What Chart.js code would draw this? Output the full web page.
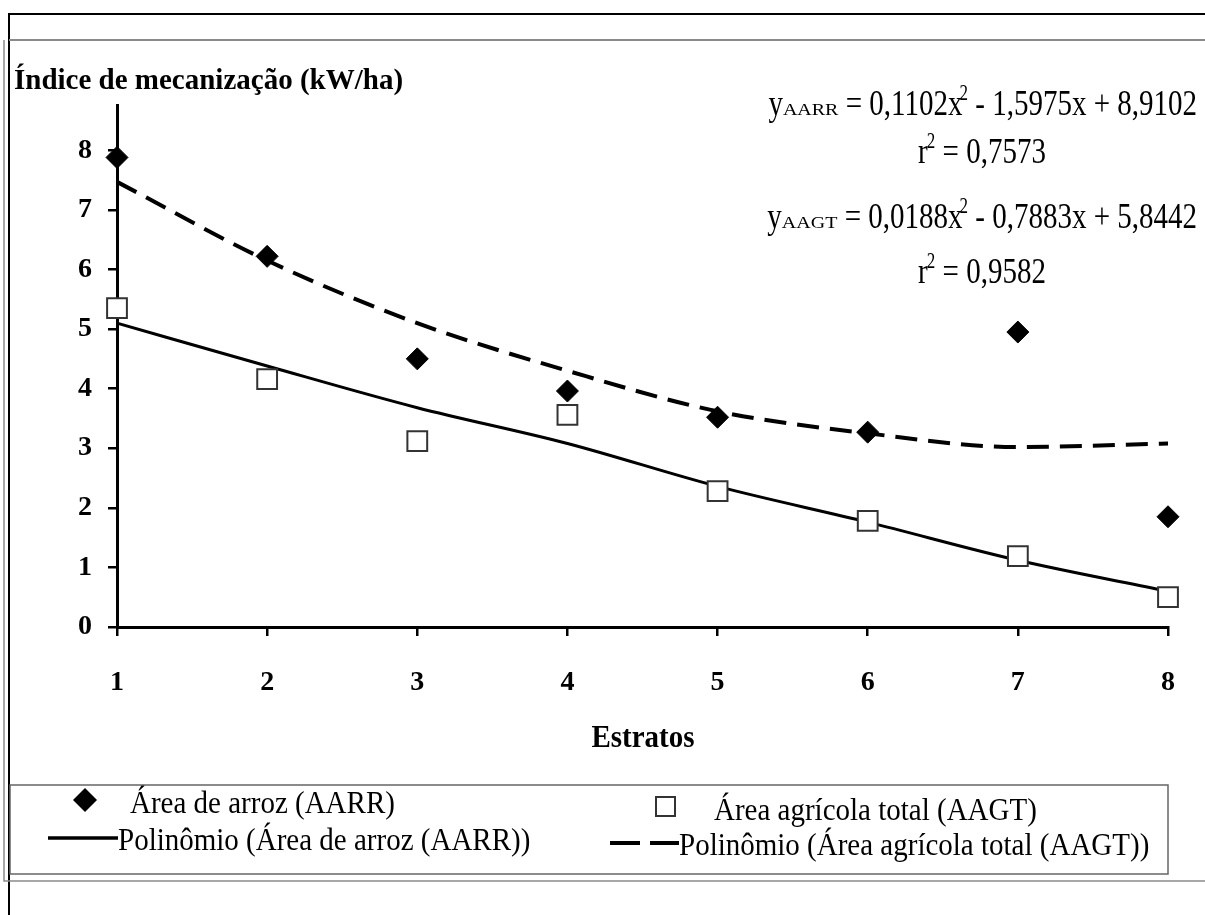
<!DOCTYPE html>
<html><head><meta charset="utf-8">
<script src="https://cdn.jsdelivr.net/npm/chart.js@4.4.0/dist/chart.umd.min.js"></script>
<style>html,body{margin:0;padding:0;background:#fff;overflow:hidden}#wrap{width:1205px;height:915px;position:relative}</style>
</head><body><div id="wrap"><canvas id="c" width="1205" height="915"></canvas></div>
<script>
// ---- data ----
const estratos = [1, 2, 3, 4, 5, 6, 7, 8];
const areaArroz = [7.88, 6.22, 4.50, 3.96, 3.52, 3.27, 4.95, 1.85];      // diamonds
const areaAgricola = [5.35, 4.16, 3.12, 3.56, 2.28, 1.78, 1.19, 0.50];    // squares
const solidCurve = [5.10, 4.38, 3.68, 3.08, 2.36, 1.76, 1.12, 0.60];      // solid trend line
const dashedCurve = [7.47, 6.15, 5.10, 4.30, 3.62, 3.25, 3.02, 3.08];     // dashed trend line
const yTickValues = [0, 1, 2, 3, 4, 5, 6, 7, 8];
const labels = ['Área de arroz (AARR)', 'Área agrícola total (AAGT)',
  'Polinômio (Área de arroz (AARR))', 'Polinômio (Área agrícola total (AAGT))'];
const yTitle = 'Índice de mecanização (kW/ha)';
const xTitle = 'Estratos';

const SERIF = "'Liberation Serif','Times New Roman',serif";
const pts = arr => estratos.map((x, i) => ({x: x, y: arr[i]}));

function txt(ctx, s, x, y, font, align, sy) {
  ctx.save(); ctx.font = font; ctx.fillStyle = '#000';
  ctx.textAlign = align || 'left'; ctx.textBaseline = 'alphabetic';
  ctx.translate(x, y); ctx.scale(1, sy || 1); ctx.fillText(s, 0, 0); ctx.restore();
}
function rich(ctx, parts, x, y, align) {
  let total = 0;
  parts.forEach(p => { ctx.font = p.f; p.w = ctx.measureText(p.t).width; total += p.w + (p.dx || 0); });
  let cx = align === 'right' ? x - total : (align === 'center' ? x - total / 2 : x);
  parts.forEach(p => { cx += (p.dx || 0); txt(ctx, p.t, cx, y + (p.dy || 0), p.f, 'left', p.sy); cx += p.w; });
}

const decor = {
  id: 'decor',
  afterDraw(chart) {
    const ctx = chart.ctx;
    ctx.save();
    // frame
    ctx.strokeStyle = '#000'; ctx.lineWidth = 2;
    ctx.beginPath(); ctx.moveTo(9, 915); ctx.lineTo(9, 14); ctx.lineTo(1205, 14); ctx.stroke();
    ctx.strokeStyle = '#8a8a8a'; ctx.lineWidth = 2;
    ctx.beginPath(); ctx.moveTo(9, 40); ctx.lineTo(1205, 40); ctx.stroke();
    ctx.lineWidth = 1.5;
    ctx.beginPath(); ctx.moveTo(4, 40); ctx.lineTo(4, 881); ctx.lineTo(1205, 881); ctx.stroke();
    // legend box
    ctx.strokeStyle = '#666'; ctx.lineWidth = 1.5;
    ctx.strokeRect(10, 785, 1158, 89);
    ctx.restore();

    // titles
    txt(ctx, yTitle, 14, 89, 'bold 29px ' + SERIF, 'left', 1.05);
    txt(ctx, xTitle, 643, 747, 'bold 29px ' + SERIF, 'center', 1.1);

    // equations
    const M = '29px ' + SERIF, S = '20px ' + SERIF, P = '17px ' + SERIF;
    rich(ctx, [{t: 'y', f: M, sy: 1.25}, {t: 'AARR', f: S, sy: 0.8}, {t: ' = 0,1102x', f: M, sy: 1.25},
      {t: '2', f: P, sy: 1.3, dy: -15, dx: -3}, {t: ' - 1,5975x + 8,9102', f: M, sy: 1.25}], 1197, 115, 'right');
    rich(ctx, [{t: 'r', f: M, sy: 1.25}, {t: '2', f: P, sy: 1.3, dy: -15, dx: -1}, {t: ' = 0,7573', f: M, sy: 1.25}], 982, 163, 'center');
    rich(ctx, [{t: 'y', f: M, sy: 1.25}, {t: 'AAGT', f: S, sy: 0.8}, {t: ' = 0,0188x', f: M, sy: 1.25},
      {t: '2', f: P, sy: 1.3, dy: -15, dx: -3}, {t: ' - 0,7883x + 5,8442', f: M, sy: 1.25}], 1197, 228, 'right');
    rich(ctx, [{t: 'r', f: M, sy: 1.25}, {t: '2', f: P, sy: 1.3, dy: -15, dx: -1}, {t: ' = 0,9582', f: M, sy: 1.25}], 982, 283, 'center');

    // legend
    const L = '29px ' + SERIF;
    ctx.save();
    ctx.fillStyle = '#000';
    ctx.beginPath(); ctx.moveTo(85, 788); ctx.lineTo(97, 800); ctx.lineTo(85, 812); ctx.lineTo(73, 800); ctx.closePath(); ctx.fill();
    ctx.strokeStyle = '#333'; ctx.lineWidth = 2; ctx.fillStyle = '#fff';
    ctx.beginPath(); ctx.rect(656, 797, 19, 19); ctx.fill(); ctx.stroke();
    ctx.strokeStyle = '#000'; ctx.lineWidth = 3.5;
    ctx.beginPath(); ctx.moveTo(48, 838); ctx.lineTo(118, 838); ctx.stroke();
    ctx.lineWidth = 4;
    ctx.beginPath(); ctx.moveTo(610, 843); ctx.lineTo(640, 843); ctx.moveTo(650, 843); ctx.lineTo(679, 843); ctx.stroke();
    ctx.restore();
    txt(ctx, labels[0], 130, 813, L, 'left', 1.08);
    txt(ctx, labels[2], 118, 850, L, 'left', 1.08);
    txt(ctx, labels[1], 714, 820, L, 'left', 1.08);
    txt(ctx, labels[3], 679, 855, L, 'left', 1.08);
  }
};

new Chart(document.getElementById('c'), {
  type: 'scatter',
  data: {
    datasets: [
      {label: labels[0], data: pts(areaArroz), pointStyle: 'rectRot', pointRadius: 11, pointHoverRadius: 11,
        backgroundColor: '#000', borderColor: '#000', borderWidth: 1, order: 1, clip: false},
      {label: labels[1], data: pts(areaAgricola), pointStyle: 'rect', pointRadius: 14, pointHoverRadius: 14,
        backgroundColor: '#fff', borderColor: '#333', borderWidth: 2, order: 1, clip: false},
      {label: labels[2], data: pts(solidCurve), showLine: true, pointRadius: 0, borderColor: '#000',
        borderWidth: 3, cubicInterpolationMode: 'monotone', order: 2, clip: false},
      {label: labels[3], data: pts(dashedCurve), showLine: true, pointRadius: 0, borderColor: '#000',
        borderWidth: 4, borderDash: [22, 11], cubicInterpolationMode: 'monotone', order: 2, clip: false}
    ]
  },
  options: {
    responsive: false, animation: false, devicePixelRatio: 1,
    layout: {padding: {left: 0, right: 25, top: 105, bottom: 0}},
    plugins: {legend: {display: false}, tooltip: {enabled: false}},
    scales: {
      x: {type: 'linear', min: 1, max: 8,
        ticks: {stepSize: 1, color: '#000', padding: 30, font: {family: SERIF, size: 28, weight: 'bold'}},
        grid: {drawOnChartArea: false, drawTicks: true, tickLength: 9, color: '#000', lineWidth: 2.5},
        border: {display: true, color: '#000', width: 3},
        afterFit: s => { s.height = 288; }
      },
      y: {type: 'linear', min: 0, max: 8.76,
        afterBuildTicks: s => { s.ticks = yTickValues.map(v => ({value: v})); },
        ticks: {color: '#000', padding: 16, font: {family: SERIF, size: 28, weight: 'bold'}},
        grid: {drawOnChartArea: false, drawTicks: true, tickLength: 9, color: '#000', lineWidth: 2.5},
        border: {display: true, color: '#000', width: 3},
        afterFit: s => { s.width = 117; }
      }
    }
  },
  plugins: [decor]
});
</script></body></html>
